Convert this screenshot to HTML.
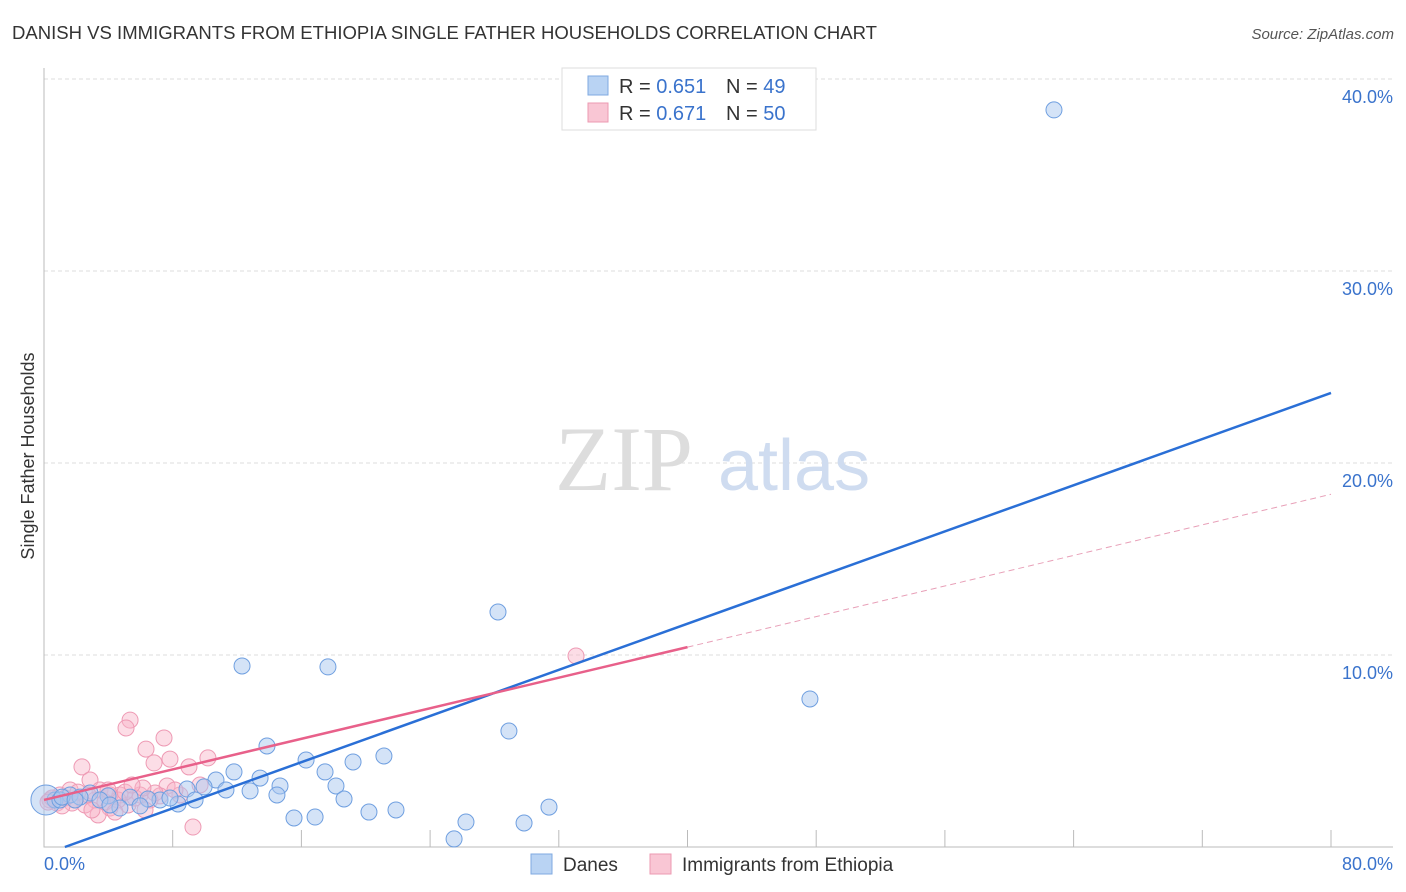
<!DOCTYPE html>
<html><head><meta charset="utf-8"><style>
body{margin:0;background:#fff;font-family:"Liberation Sans",sans-serif;}
svg{display:block}
</style></head><body>
<svg id="chart" width="1406" height="892" viewBox="0 0 1406 892">
<text x="12" y="39" font-size="18" fill="#333" textLength="865" lengthAdjust="spacingAndGlyphs">DANISH VS IMMIGRANTS FROM ETHIOPIA SINGLE FATHER HOUSEHOLDS CORRELATION CHART</text>
<text x="1394" y="39" font-size="15" fill="#555" font-style="italic" text-anchor="end">Source: ZipAtlas.com</text>
<text transform="translate(34,456) rotate(-90)" font-size="18" fill="#333" text-anchor="middle">Single Father Households</text>
<g id="grid"></g>
<g><text x="555" y="490" font-size="92" font-family="Liberation Serif,serif" fill="#ddd">ZIP</text><text x="718" y="490" font-size="72" fill="#cfdcf0">atlas</text></g>
<g id="pts"></g>
<g id="lines"></g>
<g>
<rect x="562" y="68" width="254" height="62" fill="#fff" stroke="#ddd"/>
<rect x="588" y="76" width="20" height="19" fill="#b9d3f3" stroke="#7fa9e0"/>
<rect x="588" y="103" width="20" height="19" fill="#f9c6d4" stroke="#ec9ab2"/>
<text x="619" y="93" font-size="20" fill="#333">R = <tspan fill="#3a73cc">0.651</tspan></text>
<text x="726" y="93" font-size="20" fill="#333">N = <tspan fill="#3a73cc">49</tspan></text>
<text x="619" y="120" font-size="20" fill="#333">R = <tspan fill="#3a73cc">0.671</tspan></text>
<text x="726" y="120" font-size="20" fill="#333">N = <tspan fill="#3a73cc">50</tspan></text>
</g>
<g>
<rect x="531" y="854" width="21" height="20" fill="#b9d3f3" stroke="#7fa9e0"/>
<text x="563" y="871" font-size="19" fill="#333">Danes</text>
<rect x="650" y="854" width="21" height="20" fill="#f9c6d4" stroke="#ec9ab2"/>
<text x="682" y="871" font-size="19" fill="#333">Immigrants from Ethiopia</text>
</g>
<text x="44" y="870" font-size="18" fill="#3a73cc">0.0%</text>
<text x="1393" y="870" font-size="18" fill="#3a73cc" text-anchor="end">80.0%</text>
</svg>
<script>
const blueX=[62.78,28.22,12.31,17.65,47.61,28.90,13.86,21.13,16.29,19.21,11.81,17.47,13.43,10.69,14.67,9.95,8.89,18.15,11.31,12.81,14.48,9.39,18.65,7.21,8.33,5.35,6.46,3.98,2.86,1.62,0.68,0.12,31.39,21.88,20.20,15.54,16.85,26.23,29.84,25.49,4.72,5.97,3.48,0.99,2.24,7.83,4.10,1.12,1.93];
const blueY=[38.39,12.24,9.43,9.38,7.71,6.04,5.26,4.74,4.53,4.43,3.91,3.91,3.59,3.49,3.18,3.13,3.02,3.18,2.97,2.92,2.71,2.45,2.50,2.45,2.24,2.60,2.50,2.66,2.81,2.71,2.45,2.45,2.08,1.93,1.82,1.51,1.56,1.30,1.25,0.42,2.03,2.14,2.45,2.45,2.60,2.55,2.19,2.60,2.45];
const pinkX=[33.07,5.35,5.10,7.46,6.34,7.83,10.19,6.84,2.36,9.01,2.86,7.65,0.99,1.62,3.48,4.72,5.97,7.21,8.45,0.37,0.81,1.93,3.17,4.10,5.22,6.59,9.26,3.36,2.55,1.31,4.10,5.66,6.28,3.79,2.74,1.74,0.50,1.12,4.60,6.90,8.14,9.70,6.15,5.04,2.11,2.98,3.98,4.41,5.47,0.25];
const pinkY=[9.95,6.61,6.20,5.68,5.10,4.58,4.64,4.38,4.17,4.17,3.49,3.18,2.71,2.97,2.97,2.71,2.71,2.66,2.71,2.45,2.29,2.45,2.45,2.03,2.19,2.45,1.04,1.67,2.19,2.55,2.71,2.55,1.93,2.34,2.71,2.29,2.55,2.14,2.45,2.81,2.97,3.23,3.07,2.86,2.86,1.93,2.97,1.82,3.23,2.34];
const yTicks=[10,20,30,40];
const xTicks=[8,16,24,32,40,48,56,64,72,80];
const blueTrend=[-0.39,0.3005];
const pinkTrend=[2.45,0.199];
const NS="http://www.w3.org/2000/svg";
const X=v=>44+v/80*1287, Y=v=>847-v*19.2;
function mk(t,a,p){const e=document.createElementNS(NS,t);for(const k in a)e.setAttribute(k,a[k]);p.appendChild(e);return e;}
const grid=document.getElementById('grid');
yTicks.forEach(t=>{
 const l=mk('line',{x1:44,x2:1393,y1:Y(t),y2:Y(t),stroke:'#ddd','stroke-dasharray':'4,3'},grid);
 
 
 const tx=mk('text',{x:1393,y:Y(t)+24,'font-size':18,fill:'#3a73cc','text-anchor':'end'},grid);
 tx.textContent=t.toFixed(1)+'%';
 
 
});
xTicks.forEach(t=>{
 const l=mk('line',{x1:X(t),x2:X(t),y1:830,y2:847,stroke:'#bbb'},grid);
 
 
});
const ax=mk('path',{d:'M44 68 V847 H1393',fill:'none',stroke:'#bbb'},grid);


const pts=document.getElementById('pts');
pinkX.forEach((v,i)=>{
 const c=mk('circle',{cx:X(v),cy:Y(pinkY[i]),r:8,fill:'rgba(248,180,200,0.45)',stroke:'#ee9ab4','stroke-width':1},pts);
 
 
});
blueX.forEach((v,i)=>{
 const c=mk('circle',{cx:X(v),cy:Y(blueY[i]),r:i==31?15:8,fill:'rgba(170,200,240,0.5)',stroke:'#6f9fe0','stroke-width':1},pts);
 
 
});
const lines=document.getElementById('lines');
const x0=(0-blueTrend[0])/blueTrend[1];
const bl=mk('line',{x1:X(x0),y1:Y(0),x2:X(80),y2:Y(blueTrend[0]+blueTrend[1]*80),stroke:'#2a6fd6','stroke-width':2.5},lines);


const pl=mk('line',{x1:X(0),y1:Y(pinkTrend[0]),x2:X(40),y2:Y(pinkTrend[0]+pinkTrend[1]*40),stroke:'#e8608a','stroke-width':2.5},lines);


const pd=mk('line',{x1:X(40),y1:Y(pinkTrend[0]+pinkTrend[1]*40),x2:X(80),y2:Y(pinkTrend[0]+pinkTrend[1]*80),stroke:'#e8a0b8','stroke-width':1,'stroke-dasharray':'6,4'},lines);


</script>
</body></html>
